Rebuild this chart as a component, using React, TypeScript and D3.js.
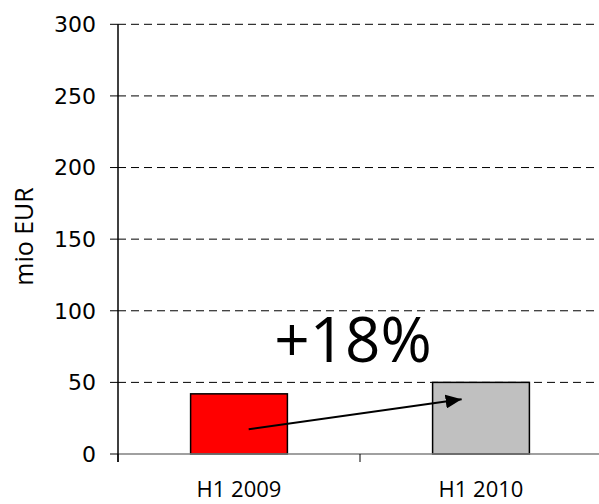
import * as d3 from 'd3';
import React, { useEffect, useRef } from 'react';

const categories = ['H1 2009', 'H1 2010'];
const values = [42, 50];
const barColors = ['#ff0000', '#c0c0c0'];
const yTicks = [0, 50, 100, 150, 200, 250, 300];
const yLabel = 'mio EUR';
const growthLabel = '+18%';
// arrow from inside first bar to inside second bar (category, position in bar, value)
const arrowFrom = { cat: 'H1 2009', frac: 0.6, value: 17.2 };
const arrowTo = { cat: 'H1 2010', frac: 0.3, value: 38.2 };

const W = 599;
const H = 504;

export default function App() {
  const ref = useRef<SVGSVGElement>(null);

  useEffect(() => {
    const svg = d3.select(ref.current);
    svg.selectAll('*').remove();

    const left = 118, right = 602, top = 24.3, bottom = 454;

    const x = d3.scaleBand().domain(categories).range([left, right])
      .paddingInner(0.6).paddingOuter(0.3);
    const y = d3.scaleLinear().domain([0, 300]).range([bottom, top]);

    const defs = svg.append('defs');
    defs.append('marker')
      .attr('id', 'head')
      .attr('viewBox', '0 0 16 14')
      .attr('refX', 16).attr('refY', 7)
      .attr('markerWidth', 16).attr('markerHeight', 14)
      .attr('markerUnits', 'userSpaceOnUse')
      .attr('orient', 'auto')
      .append('path').attr('d', 'M0,0L16,7L0,14Z').attr('fill', '#000');

    // gridlines
    svg.append('g').selectAll('line')
      .data(yTicks.filter(d => d > 0))
      .enter().append('line')
      .attr('x1', left).attr('x2', W)
      .attr('y1', d => y(d)).attr('y2', d => y(d))
      .attr('stroke', '#000').attr('stroke-width', 1)
      .attr('stroke-dasharray', '8,5');

    // y ticks + labels
    const yt = svg.append('g');
    yt.selectAll('line').data(yTicks).enter().append('line')
      .attr('x1', left - 8).attr('x2', left)
      .attr('y1', d => y(d)).attr('y2', d => y(d))
      .attr('stroke', '#000');
    yt.selectAll('text').data(yTicks).enter().append('text')
      .attr('x', 96).attr('y', d => y(d))
      .attr('dy', '0.36em')
      .attr('text-anchor', 'end')
      .style('font-family', 'DejaVu Sans')
      .style('font-size', '22px')
      .text(d => d);

    // bars
    svg.append('g').selectAll('rect')
      .data(values).enter().append('rect')
      .attr('x', (d, i) => x(categories[i])!)
      .attr('width', x.bandwidth())
      .attr('y', d => y(d))
      .attr('height', d => y(0) - y(d))
      .attr('fill', (d, i) => barColors[i])
      .attr('stroke', '#000').attr('stroke-width', 1.5);

    // x axis
    svg.append('line')
      .attr('x1', left - 8).attr('x2', W)
      .attr('y1', y(0)).attr('y2', y(0))
      .attr('stroke', '#808080').attr('stroke-width', 1.5);
    const bounds = d3.range(categories.length + 1).map(i => left + i * x.step());
    svg.append('g').selectAll('line').data(bounds).enter().append('line')
      .attr('x1', d => d).attr('x2', d => d)
      .attr('y1', y(0)).attr('y2', y(0) + 8)
      .attr('stroke', '#000');
    svg.append('g').selectAll('text').data(categories).enter().append('text')
      .attr('x', d => x(d)! + x.bandwidth() / 2)
      .attr('y', 497)
      .attr('text-anchor', 'middle')
      .style('font-family', 'Open Sans')
      .style('font-size', '22px')
      .text(d => d);

    // y axis line
    svg.append('line')
      .attr('x1', left).attr('x2', left)
      .attr('y1', top).attr('y2', y(0) + 8)
      .attr('stroke', '#000').attr('stroke-width', 1.5);

    // y label
    svg.append('text')
      .attr('transform', `translate(33,236.5) rotate(-90)`)
      .attr('text-anchor', 'middle')
      .style('font-family', 'Open Sans')
      .style('font-size', '25px')
      .text(yLabel);

    // growth arrow
    const ax1 = x(arrowFrom.cat)! + x.bandwidth() * arrowFrom.frac;
    const ax2 = x(arrowTo.cat)! + x.bandwidth() * arrowTo.frac;
    svg.append('line')
      .attr('x1', ax1).attr('y1', y(arrowFrom.value))
      .attr('x2', ax2).attr('y2', y(arrowTo.value))
      .attr('stroke', '#000').attr('stroke-width', 2)
      .attr('marker-end', 'url(#head)');

    svg.append('text')
      .attr('x', (left + right) / 2 - 7)
      .attr('y', 361.5)
      .attr('text-anchor', 'middle')
      .style('font-family', 'Open Sans')
      .style('font-size', '62px')
      .text(growthLabel);
  }, []);

  return (
    <svg ref={ref} width={W} height={H}
      style={{ position: 'absolute', left: 0, top: 0, background: '#fff' }} />
  );
}
